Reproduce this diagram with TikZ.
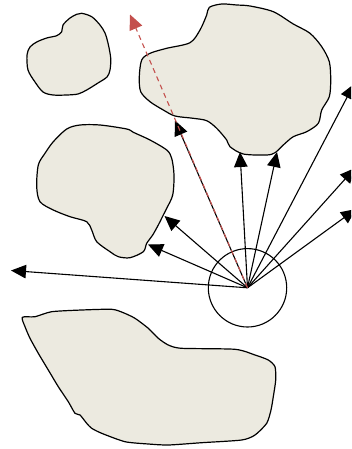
\documentclass[tikz,border=0pt]{standalone}
\usetikzlibrary{arrows.meta}
\definecolor{blobfill}{HTML}{ECEAE0}
\definecolor{rayred}{HTML}{C4504D}
\tikzset{
  blob/.style={draw=black, fill=blobfill, line width=1.2pt, line join=round},
  ray/.style={draw=black, line width=1.1pt, -{Triangle[length=15pt,width=13.5pt]}},
  redray/.style={draw=rayred, line width=1.1pt, dash pattern=on 5pt off 4pt, -{Triangle[length=15pt,width=13.5pt,fill=rayred]}},
}
\begin{document}
\begin{tikzpicture}[x=1pt,y=-1pt]
\useasboundingbox (0,0) rectangle (351,449);
\clip (0,0) rectangle (351,449);
% blobs
\draw[blob] plot[smooth cycle, tension=0.5] coordinates {
 (81.7,13.3) (91.7,16.7) (100,25) (105,33) (108,43) (110.7,58) (110,70) (107,77)
 (98,83) (86.7,90) (78,94) (66.7,95) (53,95) (43,92) (35,82) (28,70) (27,55)
 (30,47) (36.7,42) (46.7,38) (56.7,35.7) (61.7,31.7) (63,25) (70,18) (76.7,14.3)};
\draw[blob] plot[smooth cycle, tension=0.5] coordinates {
 (209.3,7.3) (221.7,4) (236.7,5) (250,6) (273.3,11.7) (293.3,24) (310,33.3)
 (321.7,46.7) (329.3,61.7) (330.7,80) (329.3,96.7) (321.7,110) (318.3,123.3)
 (306.7,131.7) (293.3,136.7) (283.3,145) (275,152.7) (266.7,155) (243.3,154)
 (230,146.7) (226.7,140) (216.7,128.3) (206.7,120.7) (193.3,118.3) (175,116)
 (163.3,110) (150,101.7) (140.7,91.7) (139.3,76.7) (141.7,60) (150,53.3)
 (166.7,48.3) (190,42.7) (200,30) (206.7,15)};
\draw[blob] plot[smooth cycle, tension=0.5] coordinates {
 (80,125) (100,125) (126.7,129) (133.3,132.3) (150,140) (166.7,150) (171.7,158.3)
 (174,175) (172.7,195) (166.7,208.3) (163.3,215) (158.3,225) (152.7,235)
 (146.7,243.3) (143.3,251.7) (130,257.7) (118.3,256.7) (110,251.7) (96.7,241.7)
 (91.7,230) (86.7,221.7) (70,216.7) (53.3,210) (40,201.7) (36.7,186.7)
 (38.3,165) (45,153.3) (53.3,141.7) (66.7,129)};
\draw[blob] plot[smooth cycle, tension=0.4] coordinates {
 (22.3,317.3) (35,316.7) (51.7,311.7) (81.7,310) (111.7,309.3) (123.3,312.7)
 (135,318.3) (148.3,328.3) (158.3,338.3) (168.3,345) (181.7,348.3) (235,349.3)
 (255,355) (268.3,360) (275,366.7) (275.7,380) (273.3,396.7) (271,410)
 (266.7,423.3) (255,435) (241.7,440) (201.7,442.7) (168.3,445) (148.3,444)
 (125,441.7) (101.7,433.3) (91.7,428.3) (86.7,423.3) (80,415) (75,413.3)
 (68.3,401.7) (58.3,386.7) (48.3,370) (38.3,353.3) (30,338.3) (25,326.7)};
% origin and circle
\coordinate (o) at (247.5,287.8);
\node[circle, draw=black, line width=1.1pt, minimum size=78.4pt, inner sep=0pt] (c) at (o) {};
% ray end points
\coordinate (t1) at (11,270.5);
\coordinate (t2) at (148,244.5);
\coordinate (t3) at (164.5,216);
\coordinate (t4) at (175,120.5);
\coordinate (t5) at (240,152);
\coordinate (t6) at (277,152);
\coordinate (t7) at (354,84);
\coordinate (t8) at (355,168);
\coordinate (t9) at (356,209);
\coordinate (tr) at (130,14.5);
\foreach \t in {t1,t2,t3,t4,t5,t6,t7,t8,t9} {\draw[ray] (o) -- (\t);}
\draw[redray] (o) -- (tr);
\end{tikzpicture}
\end{document}
